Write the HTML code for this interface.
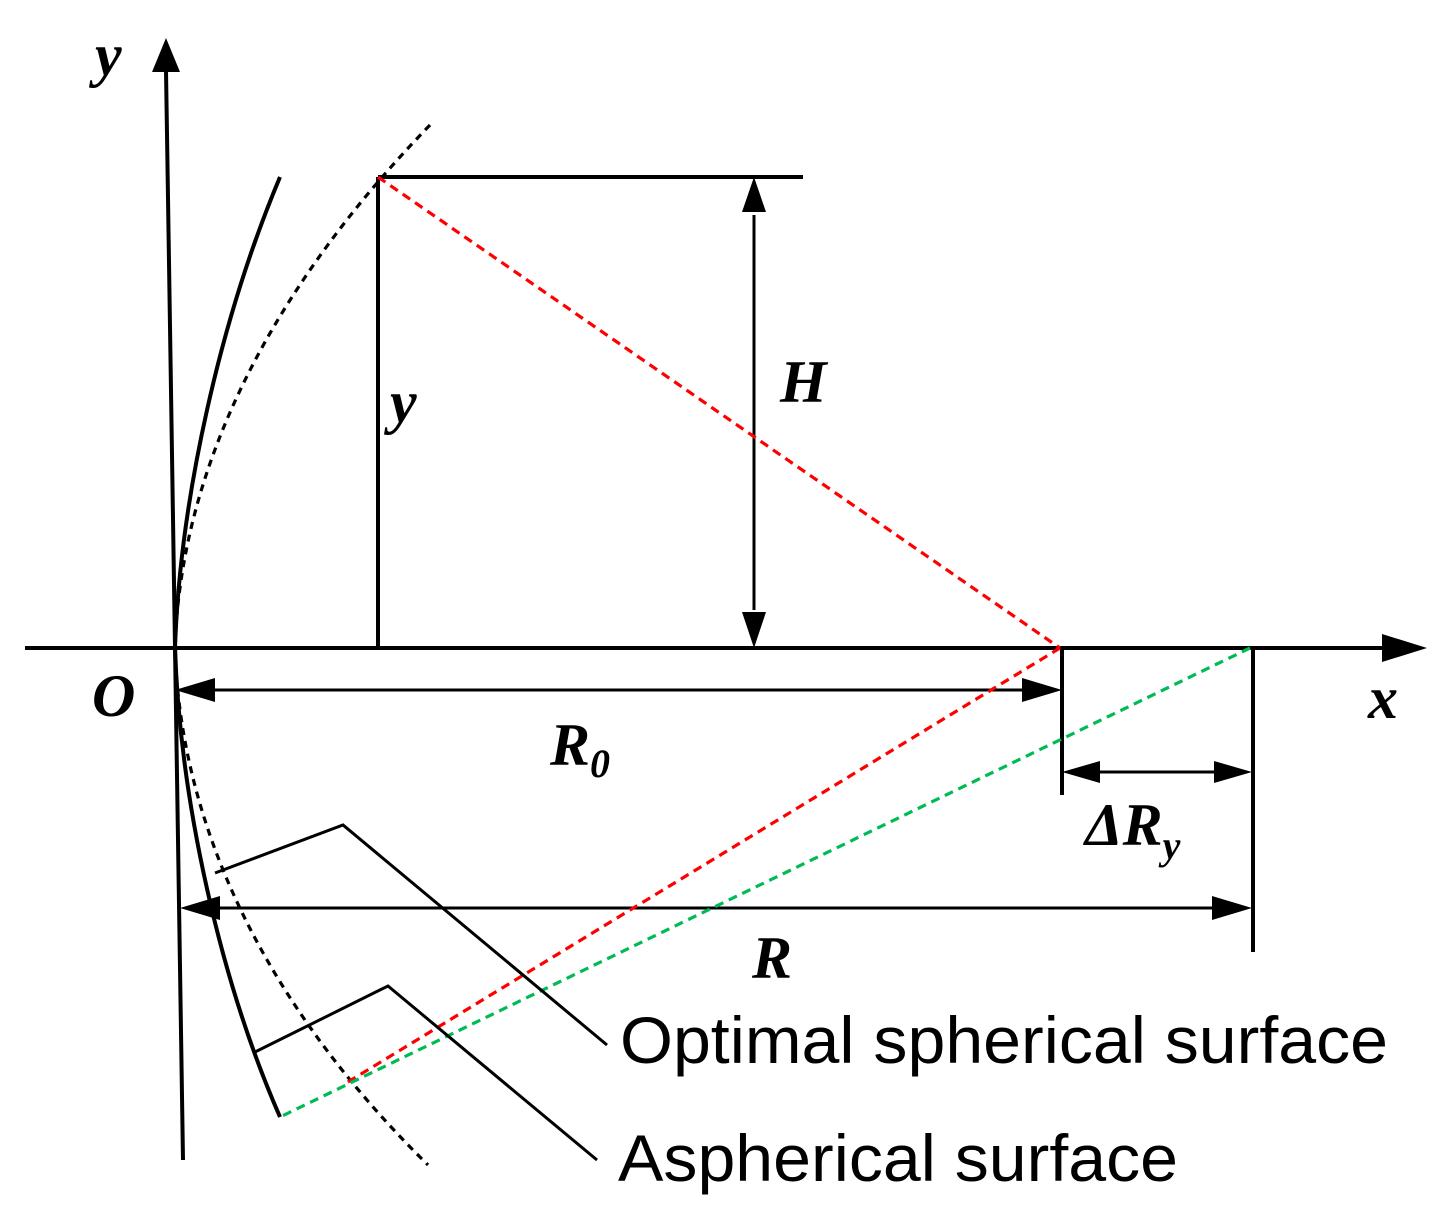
<!DOCTYPE html>
<html><head><style>body{margin:0;background:#fff}</style></head><body>
<svg width="1455" height="1214" viewBox="0 0 1455 1214" xmlns="http://www.w3.org/2000/svg">
<g fill="none" stroke="#000" stroke-width="4">
<line x1="183" y1="1160" x2="166" y2="70"/>
<line x1="25" y1="648" x2="1385" y2="648"/>
<line x1="378" y1="177" x2="378" y2="648"/>
<line x1="378" y1="177" x2="803" y2="177"/>
<line x1="1062" y1="648" x2="1062" y2="795"/>
<line x1="1253" y1="648" x2="1253" y2="952"/>
<path d="M280,177 C220,320 180,500 175,648 C180,800 220,980 280,1117"/>
</g>
<polygon points="166,38 152,72 180,72"/>
<polygon points="1427,648 1382,634 1382,662"/>
<g stroke="#000" stroke-width="3">
<line x1="754" y1="215" x2="754" y2="610"/>
<polygon points="754,177 742,212 766,212" stroke="none"/>
<polygon points="754,648 742,612 766,612" stroke="none"/>
<line x1="210" y1="690" x2="1025" y2="690"/>
<polygon points="175,690 215,678 215,702" stroke="none"/>
<polygon points="1062,690 1022,678 1022,702" stroke="none"/>
<line x1="1095" y1="772" x2="1220" y2="772"/>
<polygon points="1062,772 1100,761 1100,783" stroke="none"/>
<polygon points="1252,772 1214,761 1214,783" stroke="none"/>
<line x1="215" y1="908" x2="1215" y2="908"/>
<polygon points="180,908 220,896 220,920" stroke="none"/>
<polygon points="1252,908 1212,896 1212,920" stroke="none"/>
</g>
<g fill="none" stroke="#000" stroke-width="3.2" stroke-dasharray="7,6">
<path d="M430,125 C260,300 180,480 175,648 C180,820 260,1000 428,1165"/>
</g>
<g fill="none" stroke-width="3.2" stroke-dasharray="9,6">
<line x1="378" y1="177" x2="1060" y2="648" stroke="#f00"/>
<line x1="1060" y1="648" x2="343" y2="1085" stroke="#f00"/>
<line x1="1250" y1="648" x2="280" y2="1117" stroke="#0b5"/>
</g>
<g fill="none" stroke="#000" stroke-width="3">
<polyline points="215,873 343,825 607,1045"/>
<polyline points="255,1052 388,986 597,1160"/>
</g>
<g font-family="Liberation Serif, serif" font-style="italic" font-weight="bold" font-size="60">
<text x="95" y="75">y</text>
<text x="390" y="422">y</text>
<text x="780" y="402">H</text>
<text x="92" y="716">O</text>
<text x="550" y="765">R<tspan font-size="40" dy="12">0</tspan></text>
<text x="1368" y="718">x</text>
<text x="1085" y="845">ΔR<tspan font-size="40" dy="14">y</tspan></text>
<text x="752" y="978">R</text>
</g>
<g font-family="Liberation Sans, sans-serif" font-size="66">
<text x="620" y="1063" textLength="768" lengthAdjust="spacingAndGlyphs">Optimal spherical surface</text>
<text x="618" y="1181" textLength="560" lengthAdjust="spacingAndGlyphs">Aspherical surface</text>
</g>
</svg>
</body></html>
